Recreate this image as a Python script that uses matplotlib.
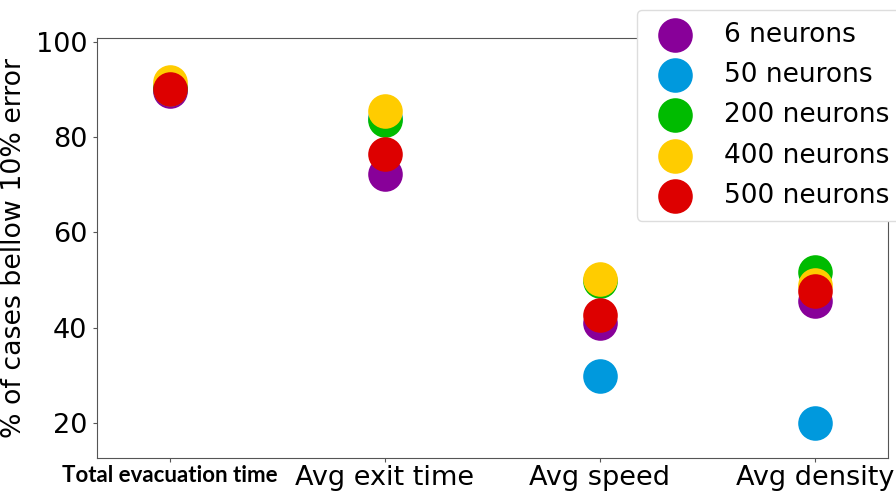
import matplotlib
matplotlib.use("Agg")
import matplotlib.pyplot as plt
import numpy as np

categories = ["Total evacuation time", "Avg exit time", "Avg speed", "Avg density"]
series_names = ["6 neurons", "50 neurons", "200 neurons", "400 neurons", "500 neurons"]
colors = ["#880099", "#0099DD", "#00BB00", "#FFCC00", "#DD0000"]
v6 = [89.7, 72.3, 41.0, 45.6]
v50 = [90.0, 84.0, 29.8, 20.0]
v200 = [90.5, 83.6, 49.8, 51.7]
v400 = [91.6, 85.5, 50.2, 49.0]
v500 = [90.1, 76.5, 42.6, 47.7]
values = [v6, v50, v200, v400, v500]

fig = plt.figure(figsize=(8.96, 4.91), dpi=100)
ax = fig.add_axes([0.1083, 0.0672, 0.8827, 0.8554])
x = np.arange(len(categories))
for name, col, vals in zip(series_names, colors, values):
    ax.scatter(x, vals, s=620, color=col, label=name, zorder=3, linewidths=0)

ax.set_xlim(-0.34, 3.34)
ax.set_ylim(12.6, 100.8)
ax.set_yticks([20, 40, 60, 80, 100])
ax.tick_params(axis='both', labelsize=19.5, length=3, color='#555555')
ax.tick_params(axis='x', pad=2)
ax.tick_params(axis='y', pad=4)
ax.set_xticks(x)
ax.set_xticklabels(categories)
lbl = ax.get_xticklabels()[0]
lbl.set_fontfamily(['Lato', 'DejaVu Sans'])
lbl.set_fontsize(16)
lbl.set_fontweight('bold')
ax.set_ylabel("% of cases bellow 10% error", fontsize=19.3, labelpad=6)
for sp in ax.spines.values():
    sp.set_color('#555555')
    sp.set_linewidth(0.8)

leg = fig.legend(loc='upper left', bbox_to_anchor=(637 / 896, 1 - 10 / 491), fontsize=19,
                 markerscale=1, scatterpoints=1, handletextpad=0.85,
                 borderpad=0.45, labelspacing=0.54, framealpha=1, borderaxespad=0)
leg.get_frame().set_edgecolor('#dddddd')

fig.savefig("out.png", dpi=100)
